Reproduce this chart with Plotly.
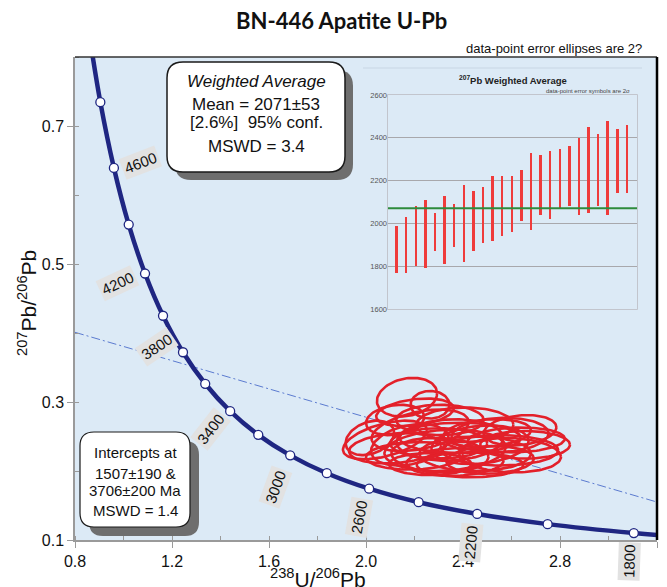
import numpy as np
import plotly.graph_objects as go

# ---------------- data ----------------
# Concordia (Tera-Wasserburg) points, ages in Ma
conc_age = [1700, 1800, 2000, 2200, 2400, 2600, 2800, 3000, 3200, 3400,
            3600, 3800, 4000, 4200, 4400, 4600, 4800, 5000]
conc_x = [3.314, 3.1044, 2.7490, 2.4586, 2.2170, 2.0129, 1.8384, 1.6874, 1.5557,
          1.4398, 1.3370, 1.2453, 1.1630, 1.0888, 1.0215, 0.9604, 0.9045, 0.8533]
conc_y = [0.1042, 0.1100, 0.1230, 0.1378, 0.1548, 0.1744, 0.1968, 0.2227, 0.2524,
          0.2867, 0.3264, 0.3721, 0.4250, 0.4862, 0.5571, 0.6393, 0.7346, 0.8453]
dot_ages = [1800, 2000, 2200, 2400, 2600, 2800, 3000, 3200, 3400, 3600,
            3800, 4000, 4200, 4400, 4600, 4800]
label_ages = [1800, 2200, 2600, 3000, 3400, 3800, 4200, 4600]

# Discordia line (intercepts 1507 & 3706 Ma)
disc_x = [0.8, 3.2]
disc_y = [0.401, 0.155]

# Error ellipses: centre x, centre y, sigma x, sigma y, rho
ell_cx = [2.169, 2.202, 2.078, 2.120, 2.223, 2.305, 2.346, 2.408, 2.367, 2.470,
          2.429, 2.553, 2.594, 2.656, 2.635, 2.264, 2.181, 2.305, 2.512, 2.388,
          2.016, 2.264, 2.553, 2.326, 2.120, 2.200, 2.450, 2.500, 2.300, 2.620]
ell_cy = [0.307, 0.285, 0.245, 0.233, 0.259, 0.223, 0.245, 0.267, 0.213, 0.238,
          0.209, 0.252, 0.223, 0.238, 0.259, 0.210, 0.238, 0.274, 0.216, 0.248,
          0.248, 0.296, 0.230, 0.230, 0.274, 0.222, 0.225, 0.255, 0.240, 0.245]
ell_sx = [0.124, 0.160, 0.173, 0.190, 0.200, 0.200, 0.220, 0.200, 0.200, 0.200,
          0.220, 0.200, 0.210, 0.185, 0.150, 0.170, 0.160, 0.180, 0.180, 0.250,
          0.100, 0.080, 0.240, 0.250, 0.120, 0.200, 0.230, 0.180, 0.200, 0.200]
ell_sy = [0.028, 0.020, 0.028, 0.022, 0.030, 0.025, 0.030, 0.025, 0.020, 0.028,
          0.018, 0.025, 0.025, 0.020, 0.022, 0.016, 0.030, 0.022, 0.020, 0.022,
          0.025, 0.020, 0.022, 0.030, 0.022, 0.020, 0.025, 0.020, 0.022, 0.018]
ell_rho = [0.2, 0.3, 0.5, 0.2, 0.4, -0.1, 0.1, 0.0, 0.1, 0.2,
           0.0, 0.1, -0.1, 0.0, 0.2, 0.0, 0.3, 0.0, 0.1, 0.0,
           0.3, 0.0, 0.0, 0.15, 0.2, 0.1, 0.0, 0.2, 0.0, 0.1]

# Inset: 207Pb weighted average (2 sigma bars)
wa_idx = list(range(1, 26))
wa_top = [1990, 2030, 2080, 2110, 2050, 2130, 2090, 2180, 2150, 2170, 2220, 2220, 2220,
          2250, 2330, 2320, 2340, 2350, 2360, 2400, 2450, 2420, 2480, 2440, 2460]
wa_bot = [1770, 1770, 1800, 1790, 1870, 1810, 1890, 1820, 1870, 1910, 1920, 1940, 1960,
          2010, 1970, 2040, 2020, 2070, 2080, 2040, 2050, 2080, 2040, 2140, 2140]
wa_mean = 2071
wa_ticks = [1600, 1800, 2000, 2200, 2400, 2600]

x_ticks = [0.8, 1.2, 1.6, 2.0, 2.4, 2.8, 3.2]
y_ticks = [0.1, 0.3, 0.5, 0.7]

# ---------------- layout helpers ----------------
W, H = 667, 587
ML, MR, MT, MB = 75, 10, 57, 47
PW, PH = W - ML - MR, H - MT - MB


def X(px):
    return (px - ML) / PW


def Y(py):
    return (H - MB - py) / PH


def rrect(x0, y0, x1, y1, r):
    p = lambda a, b: f"{X(a):.5f},{Y(b):.5f}"
    return (f"M{p(x0 + r, y0)} L{p(x1 - r, y0)} Q{p(x1, y0)} {p(x1, y0 + r)} "
            f"L{p(x1, y1 - r)} Q{p(x1, y1)} {p(x1 - r, y1)} L{p(x0 + r, y1)} "
            f"Q{p(x0, y1)} {p(x0, y1 - r)} L{p(x0, y0 + r)} Q{p(x0, y0)} {p(x0 + r, y0)} Z")


FONT = "Liberation Sans, Arial, sans-serif"
NAVY = "#1f2682"
RED = "#e3202a"

fig = go.Figure()

# discordia
fig.add_trace(go.Scatter(x=disc_x, y=disc_y, mode="lines",
                         line=dict(color="#5b7bd0", width=1, dash="9px,3px,2px,3px"),
                         hoverinfo="skip"))

# concordia curve
fig.add_trace(go.Scatter(x=conc_x, y=conc_y, mode="lines",
                         line=dict(color=NAVY, width=4.5, shape="spline"),
                         hoverinfo="skip"))

# ellipses
t = np.linspace(0, 2 * np.pi, 100)
ex, ey = [], []
for cx, cy, sx, sy, r in zip(ell_cx, ell_cy, ell_sx, ell_sy, ell_rho):
    ex += list(cx + sx * np.cos(t)) + [None]
    ey += list(cy + sy * (r * np.cos(t) + np.sqrt(1 - r * r) * np.sin(t))) + [None]
fig.add_trace(go.Scatter(x=ex, y=ey, mode="lines", line=dict(color=RED, width=2.6),
                         hoverinfo="skip"))

# concordia dots
age_xy = {a: (x, y) for a, x, y in zip(conc_age, conc_x, conc_y)}
fig.add_trace(go.Scatter(x=[age_xy[a][0] for a in dot_ages], y=[age_xy[a][1] for a in dot_ages],
                         mode="markers",
                         marker=dict(size=9, color="white", line=dict(color=NAVY, width=1.3)),
                         hoverinfo="skip"))

# inset bars
fig.add_trace(go.Bar(x=wa_idx, base=wa_bot, y=[a - b for a, b in zip(wa_top, wa_bot)],
                     width=0.26, marker=dict(color="#ef3b3b", line=dict(width=0)),
                     xaxis="x2", yaxis="y2", hoverinfo="skip"))

shapes = []
# inset plot background
shapes.append(dict(type="rect", xref="x2 domain", yref="y2 domain", x0=0, x1=1, y0=0, y1=1,
                   fillcolor="#e7e5ea", line=dict(color="#b9b9c0", width=1.5), layer="below"))
# inset mean line
shapes.append(dict(type="line", xref="x2 domain", yref="y2", x0=0, x1=1, y0=wa_mean, y1=wa_mean,
                   line=dict(color="#2e8b3c", width=2)))
# faint inset top edge
shapes.append(dict(type="line", xref="paper", yref="paper", x0=X(363), x1=X(642), y0=Y(68), y1=Y(68),
                   line=dict(color="#c8d6e4", width=1)))
# main plot top and right borders
shapes.append(dict(type="line", xref="paper", yref="paper", x0=0, x1=1, y0=1, y1=1,
                   line=dict(color="#333333", width=1.5)))
shapes.append(dict(type="line", xref="paper", yref="paper", x0=1, x1=1, y0=0, y1=1,
                   line=dict(color="#000000", width=2.5)))
# text boxes with shadows
shapes.append(dict(type="path", xref="paper", yref="paper", path=rrect(175, 70, 353, 180, 16),
                   fillcolor="#6e6e6e", line=dict(width=0)))
shapes.append(dict(type="path", xref="paper", yref="paper", path=rrect(167, 62, 345, 172, 16),
                   fillcolor="white", line=dict(color="#1a1a1a", width=1.5)))
shapes.append(dict(type="path", xref="paper", yref="paper", path=rrect(89, 441, 199, 536, 14),
                   fillcolor="#6e6e6e", line=dict(width=0)))
shapes.append(dict(type="path", xref="paper", yref="paper", path=rrect(80, 432, 190, 527, 14),
                   fillcolor="white", line=dict(color="#1a1a1a", width=1.2)))

ann = []
# title and subtitle
ann.append(dict(text="<b>BN-446 Apatite U-Pb</b>", xref="paper", yref="paper", x=X(341), y=Y(20),
                showarrow=False, xanchor="center", yanchor="middle",
                font=dict(family="Lato, Open Sans, sans-serif", size=22, color="#111")))
ann.append(dict(text="data-point error ellipses are 2?", xref="paper", yref="paper", x=X(644), y=Y(48),
                showarrow=False, xanchor="right", yanchor="middle",
                font=dict(family=FONT, size=13, color="#111")))
# axis titles
ann.append(dict(text="<sup>238</sup>U/<sup>206</sup>Pb", xref="paper", yref="paper", x=X(318), y=Y(578),
                showarrow=False, xanchor="center", yanchor="middle",
                font=dict(family=FONT, size=21, color="#111")))
ann.append(dict(text="<sup>207</sup>Pb/<sup>206</sup>Pb", xref="paper", yref="paper", x=X(27), y=Y(303),
                showarrow=False, xanchor="center", yanchor="middle", textangle=-90,
                font=dict(family=FONT, size=21, color="#111")))

# weighted average box text
wa_lines = [("<i>Weighted Average</i>", 81), ("Mean = 2071±53", 105),
            ("[2.6%]  95% conf.", 122), ("MSWD = 3.4", 146)]
for txt, py in wa_lines:
    ann.append(dict(text=txt, xref="paper", yref="paper", x=X(256), y=Y(py), showarrow=False,
                    xanchor="center", yanchor="middle", font=dict(family=FONT, size=17, color="#111")))
# intercept box text
ic_lines = [("Intercepts at", 452), ("1507±190 &", 473), ("3706±200 Ma", 490), ("MSWD = 1.4", 510)]
for txt, py in ic_lines:
    ann.append(dict(text=txt, xref="paper", yref="paper", x=X(135), y=Y(py), showarrow=False,
                    xanchor="center", yanchor="middle", font=dict(family=FONT, size=15, color="#111")))

# concordia age labels: (dx, dy) pixel offsets, angle
lab_style = {4600: (27, -5, -21), 4200: (-28, 10, -25), 3800: (-26, -6, -34),
             3400: (-20, 18, -52), 3000: (-15, 32, -70), 2600: (-10, 29, -80),
             2200: (-6, 29, -85), 1800: (-5, 28, -88)}
for a in label_ages:
    dx, dy, ang = lab_style[a]
    ann.append(dict(text=str(a), x=age_xy[a][0], y=age_xy[a][1], xref="x", yref="y",
                    xshift=dx, yshift=-dy, textangle=ang, showarrow=False,
                    xanchor="center", yanchor="middle", bgcolor="#e2e2e2", borderpad=2,
                    font=dict(family=FONT, size=15, color="#111")))

# inset titles
ann.append(dict(text="<b><sup>207</sup>Pb Weighted Average</b>", xref="paper", yref="paper",
                x=X(513), y=Y(80), showarrow=False, xanchor="center", yanchor="middle",
                font=dict(family=FONT, size=9.5, color="#222")))
ann.append(dict(text="data-point error symbols are 2σ", xref="paper", yref="paper",
                x=X(632), y=Y(91), showarrow=False, xanchor="right", yanchor="middle",
                font=dict(family=FONT, size=6, color="#444")))

fig.update_layout(
    width=W, height=H, margin=dict(l=ML, r=MR, t=MT, b=MB),
    paper_bgcolor="white", plot_bgcolor="#dceaf6", showlegend=False,
    font=dict(family=FONT, size=15, color="#111"),
    shapes=shapes, annotations=ann,
    xaxis=dict(range=[0.8, 3.2], tickvals=x_ticks, ticktext=[f"{v:.1f}" for v in x_ticks],
               ticks="outside", ticklen=6, tickcolor="#9a9a9a", showline=True, linecolor="#9a9a9a",
               linewidth=1.5, showgrid=False, zeroline=False,
               tickfont=dict(family=FONT, size=16, color="#111"),
               minor=dict(dtick=0.2, tick0=0.8, ticks="inside", ticklen=4, tickcolor="#9a9a9a",
                          showgrid=False)),
    yaxis=dict(range=[0.1, 0.8], tickvals=y_ticks, ticktext=[f"{v:.1f}" for v in y_ticks],
               ticks="outside", ticklen=6, tickcolor="#9a9a9a", showline=True, linecolor="#9a9a9a",
               linewidth=1.5, showgrid=False, zeroline=False,
               tickfont=dict(family=FONT, size=16, color="#111"),
               minor=dict(dtick=0.1, tick0=0.1, ticks="inside", ticklen=4, tickcolor="#9a9a9a",
                          showgrid=False)),
    xaxis2=dict(domain=[X(388), X(637)], anchor="y2", range=[0.1, 26.05], showticklabels=False,
                showgrid=False, zeroline=False, ticks="", showline=False, fixedrange=True),
    yaxis2=dict(domain=[Y(309), Y(95)], anchor="x2", range=[1600, 2600], tickvals=wa_ticks,
                showgrid=True, gridcolor="#a8a8ac", gridwidth=1, zeroline=False, ticks="",
                showline=False, tickfont=dict(family=FONT, size=7.5, color="#555")),
    bargap=0,
)

fig.write_html("out.html")
